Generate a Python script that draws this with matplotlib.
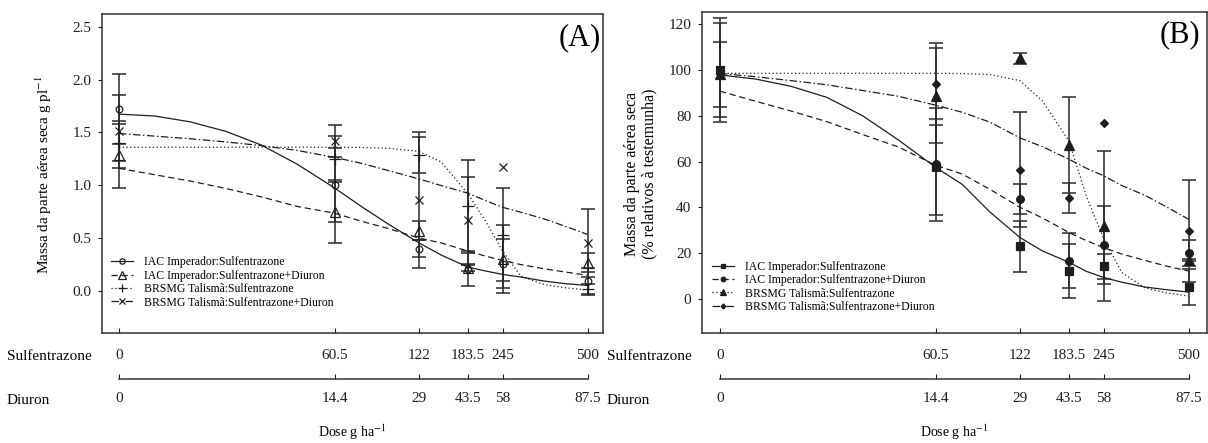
import numpy as np
import matplotlib
matplotlib.use('Agg')
import matplotlib.pyplot as plt
from matplotlib.lines import Line2D

plt.rcParams['font.family'] = ['Liberation Serif', 'DejaVu Serif']
plt.rcParams['mathtext.fontset'] = 'stix'

## doses (g/ha)
sulf = [0, 60.5, 122, 183.5, 245, 500]
sulf_lbl = ['0', '60.5', '122', '183.5', '245', '500']
diuron_lbl = ['0', '14.4', '29', '43.5', '58', '87.5']

## panel A - dry mass g/plant (mean, error)
a_imp_s = [1.72, 1.00, 0.40, 0.21, 0.26, 0.09]
a_imp_s_err = [0.33, 0.35, 0.08, 0.165, 0.23, 0.13]
a_imp_sd = [1.29, 0.75, 0.57, 0.215, 0.305, 0.267]
a_imp_sd_err = [0.32, 0.30, 0.09, 0.03, 0.32, 0.09]
a_tal_s = [1.40, 1.25, 1.29, 0.80, 0.53, 0.02]
a_tal_s_err = [0.175, 0.22, 0.17, 0.44, 0.44, 0.05]
a_tal_sd = [1.51, 1.42, 0.86, 0.667, 1.17, 0.456]
a_tal_sd_err = [0.345, 0.15, 0.64, 0.41, 0.0, 0.32]

## panel B - % of control
b_imp_s = [100.0, 57.5, 23.0, 12.2, 14.2, 5.2]
b_imp_s_err = [22.8, 21.0, 11.2, 11.6, 5.3, 8.0]
b_imp_sd = [100.0, 58.7, 43.7, 16.6, 23.4, 20.2]
b_imp_sd_err = [20.5, 24.5, 6.6, 12.0, 17.0, 5.7]
b_tal_s = [98.0, 88.8, 105.0, 67.3, 31.7, 16.9]
b_tal_s_err = [14.0, 20.7, 2.4, 21.0, 32.7, 0.5]
b_tal_sd = [100.0, 93.9, 56.5, 44.0, 76.9, 29.6]
b_tal_sd_err = [0.0, 17.8, 25.2, 6.5, 0.0, 22.4]

## fitted curves
cx = [0, 10, 20, 30, 40, 50, 60.5, 80, 100, 122, 150, 183.5, 215, 245, 300, 370, 435, 500]
fa_imp_s = [1.673, 1.655, 1.60, 1.51, 1.38, 1.20, 0.975, 0.80, 0.63, 0.455, 0.34, 0.226, 0.189, 0.157, 0.132, 0.094, 0.069, 0.053]
fa_imp_sd = [1.16, 1.10, 1.04, 0.97, 0.89, 0.80, 0.736, 0.66, 0.59, 0.50, 0.455, 0.377, 0.33, 0.289, 0.25, 0.21, 0.179, 0.148]
fa_tal_s = [1.36, 1.36, 1.36, 1.36, 1.36, 1.36, 1.36, 1.358, 1.35, 1.32, 1.22, 0.92, 0.66, 0.38, 0.14, 0.06, 0.03, 0.01]
fa_tal_sd = [1.49, 1.465, 1.44, 1.41, 1.375, 1.33, 1.264, 1.208, 1.138, 1.06, 0.997, 0.925, 0.855, 0.792, 0.745, 0.682, 0.61, 0.535]

fb_imp_s = [97.8, 96.0, 92.8, 88.0, 80.0, 69.5, 57.5, 50.0, 38.0, 26.8, 21.0, 16.0, 12.0, 9.4, 7.3, 5.2, 4.0, 3.0]
fb_imp_sd = [90.7, 86.3, 82.0, 77.4, 71.8, 66.4, 58.4, 54.5, 47.9, 40.0, 35.4, 29.0, 25.4, 22.4, 19.6, 16.8, 14.3, 12.2]
fb_tal_s = [98.5, 98.5, 98.5, 98.5, 98.5, 98.5, 98.5, 98.4, 98.0, 95.3, 86.5, 69.0, 44.5, 26.5, 11.5, 4.8, 2.6, 1.3]
fb_tal_sd = [98.5, 97.0, 95.3, 93.5, 91.0, 88.5, 84.6, 81.5, 77.2, 70.3, 66.5, 61.0, 57.0, 53.8, 49.5, 45.2, 40.1, 34.8]

labels = ['IAC Imperador:Sulfentrazone', 'IAC Imperador:Sulfentrazone+Diuron',
          'BRSMG Talismã:Sulfentrazone', 'BRSMG Talismã:Sulfentrazone+Diuron']

## non-uniform dose axis (piecewise, like the original)
kd = [-1000, 0, 60.5, 122, 183.5, 245, 500, 1500]
kp = [-3562, 0, 215.5, 300, 348.9, 383.5, 468.5, 801.8]

def fwd(x):
    return np.interp(np.asarray(x, float), kd, kp)

def inv(p):
    return np.interp(np.asarray(p, float), kp, kd)

W, H = 1208.0, 443.0
fig = plt.figure(figsize=(W/100, H/100), dpi=100)

def box(l, t, r, b):
    return [l/W, 1 - b/H, (r - l)/W, (b - t)/H]

ink = '#1e1e1e'
styles = ['-', (0, (5, 3)), (0, (1, 2)), (0, (6, 2, 1.2, 2))]

def panel(rect, xlim, ylim, yt, ytl, obs, errs, fits, markers, msizes, mfc, tag, tagpos, legpos, mscale):
    ax = fig.add_axes(box(*rect))
    ax.set_xscale('function', functions=(fwd, inv))
    ax.set_xlim(xlim)
    ax.set_ylim(ylim)
    for k in range(4):
        y = np.array(obs[k]); e = np.array(errs[k]); x = np.array(sulf)
        m = e > 0
        ax.errorbar(x[m], y[m], yerr=e[m], fmt='none', ecolor='#2a2a2a',
                    elinewidth=1.1, capsize=5, capthick=1.1, zorder=2)
        ax.plot(cx, fits[k], color=ink, lw=0.9, linestyle=styles[k], zorder=3)
        ax.plot(sulf, obs[k], ls='none', marker=markers[k], ms=msizes[k],
                mfc=mfc[k], mec=ink, mew=0.9, color=ink, zorder=4)
    hd = [Line2D([], [], color=ink, lw=0.9, linestyle=styles[k], marker=markers[k],
                 ms=msizes[k], mfc=mfc[k], mec=ink, mew=0.9) for k in range(4)]
    ax.legend(hd, labels, loc='upper left', bbox_to_anchor=legpos, frameon=False,
              fontsize=8.5, handlelength=1.9, handletextpad=0.9, labelspacing=0.12,
              borderaxespad=0, borderpad=0, markerscale=mscale, numpoints=1)
    ax.set_yticks(yt, ytl)
    ax.set_xticks(sulf, sulf_lbl)
    ax.tick_params(axis='y', direction='out', length=3, pad=5, labelsize=11, colors=ink)
    ax.tick_params(axis='x', direction='in', length=3.5, pad=11, labelsize=11, colors=ink)
    for s in ax.spines.values():
        s.set_linewidth(1.1)
        s.set_color('#303030')
    ax.text(tagpos[0], tagpos[1], tag, transform=ax.transAxes, ha='right', va='center',
            fontsize=22, color='black')

    # second row of the dose axis: diuron
    l, t, r, b = rect
    axd = fig.add_axes(box(l, 379, r, 379.3))
    axd.set_xscale('function', functions=(fwd, inv))
    axd.set_xlim(xlim)
    axd.set_yticks([])
    axd.patch.set_visible(False)
    for nm in ['top', 'left', 'right']:
        axd.spines[nm].set_visible(False)
    axd.spines['bottom'].set_bounds(0, 500)
    axd.spines['bottom'].set_linewidth(1.1)
    axd.spines['bottom'].set_color('#303030')
    axd.set_xticks(sulf, diuron_lbl)
    axd.tick_params(axis='x', direction='in', length=3.5, pad=9.5, labelsize=11, colors=ink)
    return ax

axA = panel((102.3, 14, 603.3, 333.3), (-4.69, 547.4), (-0.40, 2.62),
            [0, 0.5, 1.0, 1.5, 2.0, 2.5], ['0.0', '0.5', '1.0', '1.5', '2.0', '2.5'],
            [a_imp_s, a_imp_sd, a_tal_s, a_tal_sd],
            [a_imp_s_err, a_imp_sd_err, a_tal_s_err, a_tal_sd_err],
            [fa_imp_s, fa_imp_sd, fa_tal_s, fa_tal_sd],
            ['o', '^', '+', 'x'], [4.8, 6.5, 8, 6], ['none', 'none', 'none', 'none'],
            '(A)', (0.995, 0.925), (0.017, 0.241), 0.8)

axB = panel((702.3, 11.7, 1206.7, 333.3), (-4.97, 554.6), (-15, 125.4),
            [0, 20, 40, 60, 80, 100, 120], ['0', '20', '40', '60', '80', '100', '120'],
            [b_imp_s, b_imp_sd, b_tal_s, b_tal_sd],
            [b_imp_s_err, b_imp_sd_err, b_tal_s_err, b_tal_sd_err],
            [fb_imp_s, fb_imp_sd, fb_tal_s, fb_tal_sd],
            ['s', 'o', '^', 'D'], [6, 5.5, 6.5, 4.2], [ink, ink, ink, ink],
            '(B)', (0.987, 0.927), (0.0186, 0.2257), 0.6)

## axis texts
fig.text(43.5/W, 1 - 175/H, 'Massa da parte aérea seca g pl$^{-1}$', rotation=90,
         ha='center', va='center', fontsize=11)
fig.text(640.5/W, 1 - 174/H, 'Massa da parte aérea seca\n(% relativos à testemunha)',
         rotation=90, ha='center', va='center', fontsize=11.5, linespacing=1.1)
for x0 in [7, 607]:
    fig.text(x0/W, 1 - 357/H, 'Sulfentrazone', ha='left', va='center', fontsize=11)
    fig.text(x0/W, 1 - 400/H, 'Diuron', ha='left', va='center', fontsize=11)
fig.text(352/W, 1 - 432/H, 'Dose g ha$^{-1}$', ha='center', va='center', fontsize=10)
fig.text(954/W, 1 - 432/H, 'Dose g ha$^{-1}$', ha='center', va='center', fontsize=10)

fig.savefig('out.png', dpi=100)
